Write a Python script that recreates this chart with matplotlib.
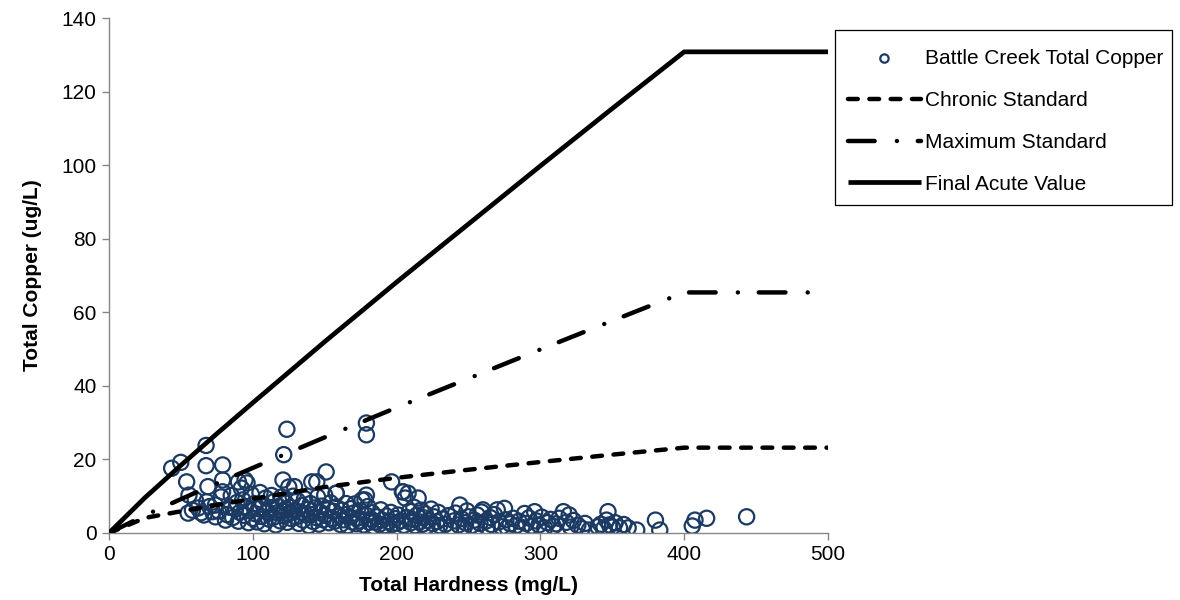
import matplotlib
matplotlib.use("Agg")
import matplotlib.pyplot as plt
from matplotlib.patches import Rectangle

plt.rcParams['font.family'] = ['Liberation Sans', 'DejaVu Sans']

# Observed total copper vs hardness (Battle Creek)
hardness = [
    43.6, 49.9, 67.5, 67.5, 79, 54, 79, 55.6, 68.8, 55, 123.7, 121.5, 121, 179, 179,
    151, 196.5, 90, 94.6, 144.5, 158, 204.5,
    58, 60, 62, 64, 66, 68, 70, 72, 74, 74, 76, 78, 79, 81, 82, 84, 85, 86, 88, 89,
    90, 91, 92, 93, 94, 95, 96, 97, 98, 99, 100,
    101, 102, 103, 104, 105, 106, 107, 108, 109, 110, 111, 112, 113, 114, 115, 116,
    117, 118, 119, 120, 121, 122, 123, 124, 125, 125, 126, 127, 128, 129, 129, 130,
    131, 132, 133, 134, 135, 136, 137, 138, 139, 140, 141, 141, 142, 143, 144, 145,
    146, 147, 148, 149, 150, 150,
    152, 153, 154, 155, 156, 157, 158, 158, 160, 161, 162, 163, 164, 165, 166, 167,
    168, 169, 170, 171, 172, 173, 174, 175, 176, 177, 178, 179, 179, 180, 181, 182,
    183, 184, 185, 186, 188, 189, 190, 192, 193, 195, 196, 197, 199, 200,
    201, 203, 204, 205, 206, 207, 208, 209, 210, 211, 212, 213, 214, 215, 216, 217,
    218, 219, 220, 221, 222, 224, 225, 226, 228, 229, 230, 232, 234, 236, 238, 240,
    241, 243, 244, 245, 247, 248, 249, 250, 252, 254, 255, 256, 258, 259, 260,
    262, 263, 265, 266, 268, 270, 271, 273, 275, 276, 277, 279, 281, 283, 285, 287,
    289, 290, 292, 294, 296, 297, 299, 301, 303, 305, 307, 309, 311, 313, 316, 318,
    320, 321, 323, 326, 329, 331, 334,
    340, 342, 344, 346, 347, 348, 350, 352, 355, 358, 361, 367, 380, 383, 405.6,
    407.5, 415.6, 443.4,
]
copper = [
    17.6, 19.2, 23.8, 18.3, 18.5, 13.9, 14.4, 10.3, 12.6, 5.4, 28.2, 21.3, 14.4, 29.9, 26.7,
    16.6, 13.9, 13.9, 14.4, 13.9, 10.8, 11.2,
    6.2, 9.0, 6.8, 5.5, 4.9, 8.5, 7.2, 5.8, 4.4, 7.6, 6.0, 9.8, 11.2, 3.5, 5.0, 7.0, 10.2, 4.2, 6.5, 8.3,
    3.2, 5.6, 12.2, 9.0, 4.8, 7.2, 13.6, 2.8, 6.0, 10.5, 4.0,
    8.0, 5.2, 3.0, 6.6, 11.0, 4.5, 7.8, 2.5, 9.5, 5.8, 3.8, 6.9, 10.2, 4.2, 8.6, 2.2,
    5.5, 7.2, 3.3, 9.8, 6.1, 4.6, 8.1, 2.9, 12.5, 5.3, 7.0, 3.9, 10.0, 12.6, 6.0, 4.4,
    8.8, 2.6, 5.7, 7.5, 3.5, 9.3, 4.9, 6.4, 2.0, 8.0, 13.9, 5.0, 3.1, 6.8, 4.2, 9.8,
    2.4, 5.6, 7.3, 3.6, 10.3, 4.8,
    6.5, 2.8, 8.2, 4.0, 5.9, 3.2, 10.8, 7.1, 4.6, 2.3, 6.2, 3.6, 5.0, 8.0, 2.0, 4.3,
    6.6, 3.0, 5.4, 7.9, 2.5, 4.1, 3.3, 6.0, 9.0, 2.2, 9.0, 10.3, 4.8, 7.2, 2.9, 3.8,
    5.5, 1.8, 3.0, 4.4, 2.4, 6.3, 3.5, 2.0, 4.6, 3.1, 5.6, 2.3, 3.9, 2.7,
    4.9, 3.3, 11.2, 2.1, 9.5, 4.2, 10.8, 5.9, 2.8, 3.7, 7.0, 2.0, 4.8, 9.5, 3.0, 6.2,
    2.4, 4.1, 5.2, 1.8, 3.4, 6.5, 2.6, 4.4, 3.1, 5.6, 2.0, 3.8, 2.4, 4.7, 1.7, 3.3,
    5.4, 2.2, 7.6, 3.9, 1.5, 2.8, 6.0, 4.4, 2.0, 3.5, 1.2, 4.9, 2.6, 5.7, 6.3,
    3.2, 1.6, 4.2, 2.3, 5.0, 6.3, 3.0, 1.7, 6.7, 3.6, 1.4, 2.5, 4.0, 2.0, 3.2, 1.5,
    5.3, 2.6, 4.1, 1.9, 5.8, 3.3, 2.2, 4.3, 1.4, 2.8, 3.7, 1.8, 2.5, 4.0, 5.8, 2.9,
    4.9, 1.6, 3.4, 2.1, 1.2, 2.6, 0.8,
    1.7, 2.4, 1.2, 3.5, 5.8, 2.2, 1.6, 2.8, 1.4, 2.3, 1.4, 0.8, 3.5, 0.8, 1.9,
    3.5, 4.0, 4.4,
]

# Hardness-based criteria curves
std_hardness = [0, 25, 50, 75, 100, 150, 200, 250, 300, 350, 400, 500]
chronic_std = [0, 4.1, 5.9, 7.6, 9.3, 12.5, 15.0, 17.2, 19.3, 21.3, 23.2, 23.2]
fav_values = [0, 9.6, 18.4, 27.0, 35.4, 52.0, 68.2, 84.0, 99.8, 115.4, 130.8, 130.8]

max_hardness = [0, 25, 50, 75, 100, 150, 200, 250, 300, 350, 400, 490]
maximum_std = [0, 4.8, 9.2, 13.5, 17.7, 26.0, 34.1, 42.0, 49.9, 57.7, 65.4, 65.4]

W, H = 1180, 600
fig = plt.figure(figsize=(W / 100, H / 100), dpi=100)
ax = fig.add_axes([109 / W, 1 - 533 / H, 719 / W, 515 / H])

ax.scatter(hardness, copper, s=120, facecolors='none', edgecolors='#1B3A63',
           linewidths=1.6, zorder=2, label='Battle Creek Total Copper')
ax.plot(std_hardness, chronic_std, color='black', lw=3.2, linestyle=(0, (2.2, 2.6)),
        dash_capstyle='round', zorder=3, label='Chronic Standard')
ax.plot(max_hardness, maximum_std, color='black', lw=3.2,
        linestyle=(0, (6.0, 5.0, 0.01, 4.7)), dash_capstyle='round', zorder=3,
        label='Maximum Standard')
ax.plot(std_hardness, fav_values, color='black', lw=3.4, solid_capstyle='butt',
        zorder=3, label='Final Acute Value')

ax.set_xlim(0, 500)
ax.set_ylim(0, 140)
ax.set_xticks(range(0, 501, 100))
ax.set_yticks(range(0, 141, 20))

for side in ('top', 'right'):
    ax.spines[side].set_visible(False)
for side in ('left', 'bottom'):
    ax.spines[side].set_color('#868686')
    ax.spines[side].set_linewidth(1.0)
ax.tick_params(axis='both', direction='out', length=5, width=1.0, color='#868686',
               labelsize=15, labelcolor='black', pad=4)

ax.set_xlabel('Total Hardness (mg/L)', fontsize=15, fontweight='bold', labelpad=8)
ax.set_ylabel('Total Copper (ug/L)', fontsize=15, fontweight='bold', labelpad=14)

# Legend entries without a frame, boxed by a separate rectangle
leg = fig.legend(loc='upper left', bbox_to_anchor=(848 / W, 1 - 49 / H),
                 borderaxespad=0, fontsize=15, frameon=False,
                 handlelength=3.5, handletextpad=0.2,
                 labelspacing=1.1, borderpad=0, markerscale=0.55)
fig.patches.append(Rectangle((835 / W, 1 - 205 / H), 337 / W, 175 / H,
                             transform=fig.transFigure, fill=False,
                             edgecolor='black', linewidth=0.9))

fig.savefig('out.png', dpi=100)
